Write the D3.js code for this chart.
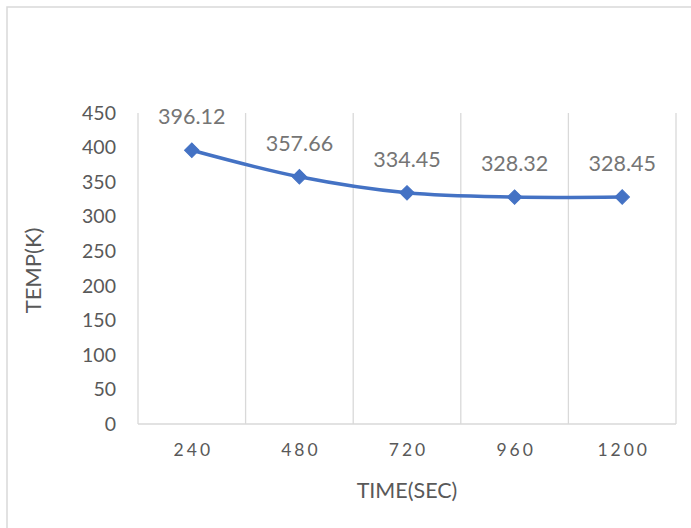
<!DOCTYPE html>
<html>
<head>
<meta charset="utf-8">
<script src="https://cdn.jsdelivr.net/npm/d3@7"></script>
<style>
  body { margin: 0; background: #fff; }
  svg text { font-family: Lato, "Open Sans", sans-serif; }
</style>
</head>
<body>
<div id="chart"></div>
<script>
// Temperature over time
var times = ["240", "480", "720", "960", "1200"];
var temps = [396.12, 357.66, 334.45, 328.32, 328.45];
var yTicks = [0, 50, 100, 150, 200, 250, 300, 350, 400, 450];

var width = 691, height = 528;
var margin = {top: 113, right: 15, bottom: 104, left: 138};
var innerWidth = width - margin.left - margin.right;
var innerHeight = height - margin.top - margin.bottom;

var svg = d3.select("#chart").append("svg")
    .attr("width", width)
    .attr("height", height);

// outer chart border (only top and left edges fall inside the picture)
svg.append("path")
    .attr("d", "M7," + height + "V7H" + width)
    .attr("fill", "none")
    .attr("stroke", "#d9d9d9")
    .attr("stroke-width", 1.5);

var g = svg.append("g")
    .attr("transform", "translate(" + margin.left + "," + margin.top + ")");

var x = d3.scaleBand()
    .domain(times)
    .range([0, innerWidth]);

var y = d3.scaleLinear()
    .domain([0, 450])
    .range([innerHeight, 0]);

// vertical gridlines at band edges
var edges = times.map(function (d) { return x(d); }).concat([innerWidth]);
g.selectAll("line.grid")
    .data(edges)
    .enter().append("line")
    .attr("class", "grid")
    .attr("x1", function (d) { return d; })
    .attr("x2", function (d) { return d; })
    .attr("y1", 0)
    .attr("y2", innerHeight)
    .attr("stroke", "#d9d9d9")
    .attr("stroke-width", 1.3);

// x axis line
g.append("line")
    .attr("x1", 0).attr("x2", innerWidth)
    .attr("y1", innerHeight).attr("y2", innerHeight)
    .attr("stroke", "#d9d9d9")
    .attr("stroke-width", 1.3);

// y axis labels
var yAxis = d3.axisLeft(y).tickValues(yTicks).tickSize(0).tickPadding(22);
var yG = g.append("g").call(yAxis);
yG.select(".domain").remove();
yG.selectAll("text")
    .attr("fill", "#595959")
    .style("font-size", "19.5px");

// x axis labels, spaced out like the reference
var xAxis = d3.axisBottom(x).tickSize(0).tickPadding(20);
var xG = g.append("g")
    .attr("transform", "translate(0," + innerHeight + ")")
    .call(xAxis);
xG.select(".domain").remove();
xG.selectAll("text")
    .attr("fill", "#595959")
    .attr("dx", "1.5px")
    .style("font-size", "17.5px")
    .style("letter-spacing", "3px");

// axis titles
svg.append("text")
    .attr("x", margin.left + innerWidth / 2)
    .attr("y", 498)
    .attr("text-anchor", "middle")
    .attr("fill", "#595959")
    .style("font-size", "21.5px")
    .text("TIME(SEC)");

svg.append("text")
    .attr("transform", "translate(41," + (margin.top + innerHeight / 2 + 2) + ") rotate(-90)")
    .attr("text-anchor", "middle")
    .attr("fill", "#595959")
    .style("font-size", "22px")
    .text("TEMP(K)");

// smoothed line (Excel-like smoothing)
var line = d3.line()
    .x(function (d, i) { return x(times[i]) + x.bandwidth() / 2; })
    .y(function (d) { return y(d); })
    .curve(d3.curveCardinal.tension(0));

g.append("path")
    .datum(temps)
    .attr("d", line)
    .attr("fill", "none")
    .attr("stroke", "#4472c4")
    .attr("stroke-width", 3.5)
    .attr("stroke-linecap", "round");

// diamond markers
var diamond = d3.symbol().type(d3.symbolSquare).size(105);
g.selectAll("path.marker")
    .data(temps)
    .enter().append("path")
    .attr("class", "marker")
    .attr("d", diamond)
    .attr("fill", "#4472c4")
    .attr("stroke", "#4472c4")
    .attr("stroke-width", 1)
    .attr("transform", function (d, i) {
      return "translate(" + (x(times[i]) + x.bandwidth() / 2) + "," + y(d) + ") rotate(45)";
    });

// data labels
g.selectAll("text.label")
    .data(temps)
    .enter().append("text")
    .attr("class", "label")
    .attr("x", function (d, i) { return x(times[i]) + x.bandwidth() / 2; })
    .attr("y", function (d) { return y(d) - 26; })
    .attr("text-anchor", "middle")
    .attr("fill", "#757575")
    .style("font-size", "21.5px")
    .text(function (d) { return d.toFixed(2); });
</script>
</body>
</html>
